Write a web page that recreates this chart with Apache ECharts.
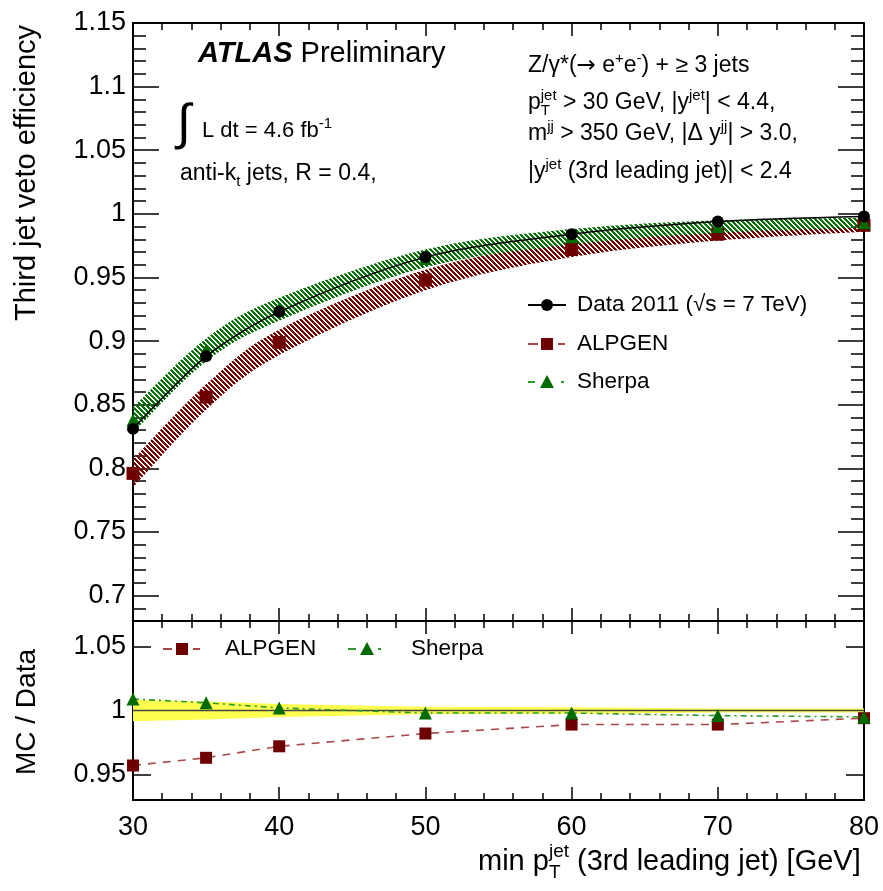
<!DOCTYPE html>
<html>
<head>
<meta charset="utf-8">
<script src="https://cdn.jsdelivr.net/npm/echarts@6/dist/echarts.min.js"></script>
<style>
  html, body { margin: 0; padding: 0; background: #fff; }
  #chart { width: 883px; height: 891px; }
</style>
</head>
<body>
<div id="chart"></div>
<script>
// Third-jet veto efficiency vs. minimum pT of the 3rd leading jet
const ptBins      = [30, 35, 40, 50, 60, 70, 80];
const dataEff     = [0.831, 0.888, 0.923, 0.966, 0.984, 0.994, 0.998];
const alpgenEff   = [0.796, 0.856, 0.899, 0.948, 0.972, 0.984, 0.991];
const alpgenErr   = [0.011, 0.010, 0.010, 0.008, 0.006, 0.005, 0.005];
const sherpaEff   = [0.838, 0.893, 0.925, 0.965, 0.982, 0.990, 0.993];
const sherpaErr   = [0.010, 0.009, 0.009, 0.007, 0.006, 0.005, 0.004];

// MC / Data ratios and the relative data uncertainty
const alpgenRatio = [0.957, 0.963, 0.972, 0.982, 0.989, 0.989, 0.994];
const sherpaRatio = [1.009, 1.006, 1.002, 0.998, 0.998, 0.996, 0.995];
const dataRelErr  = [0.0085, 0.007, 0.005, 0.003, 0.0025, 0.0015, 0.0015];
const unity = 1;

// Tick labels
const xTicks      = [30, 40, 50, 60, 70, 80];
const yTopTicks   = [0.7, 0.75, 0.8, 0.85, 0.9, 0.95, 1, 1.05, 1.1, 1.15];
const yRatioTicks = [0.95, 1, 1.05];

const FONT = '"Liberation Sans", Arial, Helvetica, sans-serif';
const RED_MARK = '#6e0000';
const GREEN_MARK = '#006b00';

function pairs(xs, ys) { return xs.map((x, i) => [x, ys[i]]); }

// crisp diagonal hatch pattern for the MC uncertainty bands
function hatch(color) {
  const n = 5;
  const c = document.createElement('canvas');
  c.width = n; c.height = n;
  const g = c.getContext('2d');
  g.fillStyle = color;
  for (let y = 0; y < n; y++) {
    for (let k = 0; k < 3; k++) g.fillRect((y + k) % n, y, 1, 1);
  }
  return c;
}

const tickStyle = { color: '#000', width: 1.5 };
const frameStyle = { color: '#000', width: 2 };

function xAxis(gridIndex, position, showLabels) {
  return {
    type: 'value', gridIndex, position, min: 30, max: 80, interval: 10,
    axisLine: { show: true, onZero: false, lineStyle: frameStyle },
    axisTick: { show: true, inside: true, length: 13, lineStyle: tickStyle },
    minorTick: { show: true, splitNumber: 5, length: 7, lineStyle: tickStyle },
    axisLabel: {
      show: showLabels, margin: 14, fontSize: 27, color: '#000', fontFamily: FONT,
      customValues: xTicks
    },
    splitLine: { show: false }, minorSplitLine: { show: false }
  };
}

function yMajor(gridIndex, position, min, max, ticks, len, showLabels) {
  return {
    type: 'value', gridIndex, position, min, max,
    axisLine: { show: true, onZero: false, lineStyle: frameStyle },
    axisTick: { show: true, inside: true, length: len, lineStyle: tickStyle, customValues: ticks },
    axisLabel: {
      show: showLabels, customValues: ticks, margin: 7, fontSize: 27, color: '#000',
      fontFamily: FONT, formatter: v => String(+v.toFixed(2))
    },
    splitLine: { show: false }
  };
}

function yMinor(gridIndex, position, min, max, step, len) {
  return {
    type: 'value', gridIndex, position, min, max, interval: step,
    axisLine: { show: false },
    axisTick: { show: true, inside: true, length: len, lineStyle: tickStyle },
    axisLabel: { show: false },
    splitLine: { show: false }
  };
}

const alpLow = alpgenEff.map((v, i) => v - alpgenErr[i]);
const alpHigh = alpgenEff.map((v, i) => v + alpgenErr[i]);
const shLow = sherpaEff.map((v, i) => v - sherpaErr[i]);
const shHigh = sherpaEff.map((v, i) => v + sherpaErr[i]);
const uncLow = dataRelErr.map(e => unity - e);
const uncHigh = dataRelErr.map(e => unity + e);

// Catmull-Rom segments through pixel points, as SVG cubic commands
function curveCmds(pts) {
  let d = '';
  for (let i = 0; i < pts.length - 1; i++) {
    const p0 = pts[Math.max(i - 1, 0)], p1 = pts[i], p2 = pts[i + 1], p3 = pts[Math.min(i + 2, pts.length - 1)];
    const c1 = [p1[0] + (p2[0] - p0[0]) / 6, p1[1] + (p2[1] - p0[1]) / 6];
    const c2 = [p2[0] - (p3[0] - p1[0]) / 6, p2[1] - (p3[1] - p1[1]) / 6];
    d += ` C ${c1[0]} ${c1[1]} ${c2[0]} ${c2[1]} ${p2[0]} ${p2[1]}`;
  }
  return d;
}

// filled band between two curves, placed through the series' own axes
function bandSeries(name, xi, yi, centre, lo, hi, fill, z, smooth, withUnity) {
  return {
    name, type: 'custom', xAxisIndex: xi, yAxisIndex: yi, z, silent: true,
    data: pairs(ptBins, centre), encode: { x: 0, y: 1 },
    renderItem: (params, api) => {
      if (params.dataIndex !== 0) return null;
      const top = ptBins.map((x, i) => api.coord([x, hi[i]]));
      const bot = ptBins.map((x, i) => api.coord([x, lo[i]])).reverse();
      const children = [];
      if (smooth) {
        const d = `M ${top[0][0]} ${top[0][1]}` + curveCmds(top) +
          ` L ${bot[0][0]} ${bot[0][1]}` + curveCmds(bot) + ' Z';
        children.push({ type: 'path', shape: { pathData: d }, style: { fill } });
      } else {
        children.push({ type: 'polygon', shape: { points: top.concat(bot) }, style: { fill } });
      }
      if (withUnity) {
        const a = api.coord([ptBins[0], unity]);
        const b = api.coord([ptBins[ptBins.length - 1], unity]);
        children.push({ type: 'line', shape: { x1: a[0], y1: a[1], x2: b[0], y2: b[1] },
          style: { stroke: '#444', lineWidth: 1.5 } });
      }
      return { type: 'group', children };
    }
  };
}

const series = [
  // upper panel: MC uncertainty bands
  bandSeries('ALPGEN band', 0, 0, alpgenEff, alpLow, alpHigh,
    { image: hatch('#720000'), repeat: 'repeat' }, 2, true, false),
  bandSeries('Sherpa band', 0, 0, sherpaEff, shLow, shHigh,
    { image: hatch('#087208'), repeat: 'repeat' }, 3, true, false),
  // upper panel: MC central values
  { name: 'ALPGEN', type: 'scatter', xAxisIndex: 0, yAxisIndex: 0, data: pairs(ptBins, alpgenEff),
    symbol: 'rect', symbolSize: 13, itemStyle: { color: RED_MARK, opacity: 1 }, z: 4 },
  { name: 'Sherpa', type: 'scatter', xAxisIndex: 0, yAxisIndex: 0, data: pairs(ptBins, sherpaEff),
    symbol: 'triangle', symbolSize: 13, itemStyle: { color: GREEN_MARK, opacity: 1 }, z: 5 },
  // upper panel: data
  { name: 'Data', type: 'line', xAxisIndex: 0, yAxisIndex: 0, data: pairs(ptBins, dataEff),
    smooth: 0.3, symbol: 'circle', symbolSize: 12, showAllSymbol: true,
    lineStyle: { color: '#000', width: 1.5 }, itemStyle: { color: '#000' }, z: 6 },

  // lower panel: data uncertainty band and unity line
  bandSeries('Data uncertainty', 2, 4, dataRelErr.map(() => unity), uncLow, uncHigh, '#ffff50', 2, false, true),
  // lower panel: ratios
  { name: 'ALPGEN/Data', type: 'line', xAxisIndex: 2, yAxisIndex: 4, data: pairs(ptBins, alpgenRatio),
    symbol: 'rect', symbolSize: 12, showAllSymbol: true,
    lineStyle: { color: '#a84848', width: 1.6, type: [8, 7] }, itemStyle: { color: RED_MARK }, z: 4 },
  { name: 'Sherpa/Data', type: 'line', xAxisIndex: 2, yAxisIndex: 4, data: pairs(ptBins, sherpaRatio),
    symbol: 'triangle', symbolSize: 13, showAllSymbol: true,
    lineStyle: { color: '#2a9a2a', width: 1.6, type: [6, 4, 2, 4] }, itemStyle: { color: GREEN_MARK }, z: 5 }
];

// text helpers
const supRich = {
  sup: { fontSize: 15, verticalAlign: 'top', lineHeight: 15, fontFamily: FONT },
  sub: { fontSize: 15, verticalAlign: 'bottom', lineHeight: 15, fontFamily: FONT },
  subz: { fontSize: 15, verticalAlign: 'bottom', lineHeight: 15, width: 0, fontFamily: FONT },
  arr: { fontSize: 23, fontFamily: '"DejaVu Sans", sans-serif' }
};
function txt(x, y, text, size) {
  return {
    type: 'text', x, y, silent: true,
    style: {
      text, fontSize: size || 22, fontFamily: FONT, fill: '#000',
      align: 'left', textAlign: 'left', verticalAlign: 'middle', textVerticalAlign: 'middle',
      lineHeight: 30, rich: supRich
    }
  };
}

const graphics = [
  // experiment label
  { type: 'text', x: 198, y: 54, silent: true,
    style: { text: '{b|ATLAS} Preliminary', fontSize: 29, fontFamily: FONT, fill: '#000',
      align: 'left', verticalAlign: 'middle',
      rich: { b: { fontSize: 29, fontFamily: FONT, fontWeight: 'bold', fontStyle: 'italic' } } } },
  // luminosity and jet definition
  txt(177, 125, '∫', 50),
  txt(202, 131, 'L dt = 4.6 fb{sup|-1}', 22),
  txt(180, 174, 'anti-k{sub|t} jets, R = 0.4,', 23),
  // selection
  txt(528, 66, 'Z/γ*({arr|→} e{sup|+}e{sup|-}) + ≥ 3 jets', 23),
  txt(528, 103, 'p{subz|T}{sup|jet} > 30 GeV, |y{sup|jet}| < 4.4,', 23),
  txt(528, 134, 'm{sup|jj} > 350 GeV, |Δ y{sup|jj}| > 3.0,', 23),
  txt(528, 172, '|y{sup|jet} (3rd leading jet)| < 2.4', 23),

  // upper legend
  { type: 'line', shape: { x1: 528, y1: 305, x2: 566, y2: 305 }, style: { stroke: '#000', lineWidth: 2 }, silent: true },
  { type: 'circle', shape: { cx: 547, cy: 305, r: 6 }, style: { fill: '#000' }, silent: true },
  txt(577, 305, 'Data 2011 (√s = 7 TeV)', 22.5),
  { type: 'line', shape: { x1: 528, y1: 344, x2: 538, y2: 344 }, style: { stroke: '#a84848', lineWidth: 2 }, silent: true },
  { type: 'rect', shape: { x: 541, y: 338, width: 12, height: 12 }, style: { fill: RED_MARK }, silent: true },
  { type: 'line', shape: { x1: 558, y1: 344, x2: 565, y2: 344 }, style: { stroke: '#a84848', lineWidth: 2 }, silent: true },
  txt(577, 344, 'ALPGEN', 22.5),
  { type: 'line', shape: { x1: 528, y1: 382, x2: 535, y2: 382 }, style: { stroke: '#2a9a2a', lineWidth: 2 }, silent: true },
  { type: 'polygon', shape: { points: [[547, 375], [554, 388], [540, 388]] }, style: { fill: GREEN_MARK }, silent: true },
  { type: 'line', shape: { x1: 561, y1: 382, x2: 564, y2: 382 }, style: { stroke: '#2a9a2a', lineWidth: 2 }, silent: true },
  txt(577, 382, 'Sherpa', 22.5),

  // lower legend
  { type: 'line', shape: { x1: 163, y1: 649, x2: 172, y2: 649 }, style: { stroke: '#a84848', lineWidth: 2 }, silent: true },
  { type: 'rect', shape: { x: 176, y: 643, width: 12, height: 12 }, style: { fill: RED_MARK }, silent: true },
  { type: 'line', shape: { x1: 193, y1: 649, x2: 200, y2: 649 }, style: { stroke: '#a84848', lineWidth: 2 }, silent: true },
  txt(225, 649, 'ALPGEN', 22.5),
  { type: 'line', shape: { x1: 348, y1: 649, x2: 356, y2: 649 }, style: { stroke: '#2a9a2a', lineWidth: 2 }, silent: true },
  { type: 'polygon', shape: { points: [[367, 642], [374, 655], [360, 655]] }, style: { fill: GREEN_MARK }, silent: true },
  { type: 'line', shape: { x1: 378, y1: 649, x2: 381, y2: 649 }, style: { stroke: '#2a9a2a', lineWidth: 2 }, silent: true },
  txt(411, 649, 'Sherpa', 22.5),

  // axis titles
  { type: 'text', x: 478, y: 862, silent: true,
    style: { text: 'min p{subz|T}{sup|jet} (3rd leading jet) [GeV]', fontSize: 29, fontFamily: FONT, fill: '#000',
      align: 'left', verticalAlign: 'middle', lineHeight: 40,
      rich: {
        sup: { fontSize: 19, verticalAlign: 'top', lineHeight: 19, fontFamily: FONT },
        subz: { fontSize: 19, verticalAlign: 'bottom', lineHeight: 19, width: 0, fontFamily: FONT }
      } } },
  { type: 'text', x: 27, y: 173, rotation: Math.PI / 2, silent: true,
    style: { text: 'Third jet veto efficiency', fontSize: 29, fontFamily: FONT, fill: '#000',
      align: 'center', verticalAlign: 'middle' } },
  { type: 'text', x: 27, y: 712, rotation: Math.PI / 2, silent: true,
    style: { text: 'MC / Data', fontSize: 28, fontFamily: FONT, fill: '#000',
      align: 'center', verticalAlign: 'middle' } }
];

const chart = echarts.init(document.getElementById('chart'), null, { renderer: 'canvas' });
chart.setOption({
  animation: false,
  backgroundColor: '#fff',
  textStyle: { fontFamily: FONT },
  grid: [
    { left: 133, right: 19, top: 23, height: 598 },
    { left: 133, right: 19, top: 621, height: 179 }
  ],
  xAxis: [
    xAxis(0, 'bottom', false),
    xAxis(0, 'top', false),
    xAxis(1, 'bottom', true),
    xAxis(1, 'top', false)
  ],
  yAxis: [
    yMajor(0, 'left', 0.68, 1.15, yTopTicks, 26, true),
    yMinor(0, 'left', 0.68, 1.15, 0.01, 13),
    yMajor(0, 'right', 0.68, 1.15, yTopTicks, 26, false),
    yMinor(0, 'right', 0.68, 1.15, 0.01, 13),
    yMajor(1, 'left', 0.93, 1.07, yRatioTicks, 18, true),
    yMajor(1, 'right', 0.93, 1.07, yRatioTicks, 18, false)
  ],
  series,
  graphic: graphics
});
</script>
</body>
</html>
